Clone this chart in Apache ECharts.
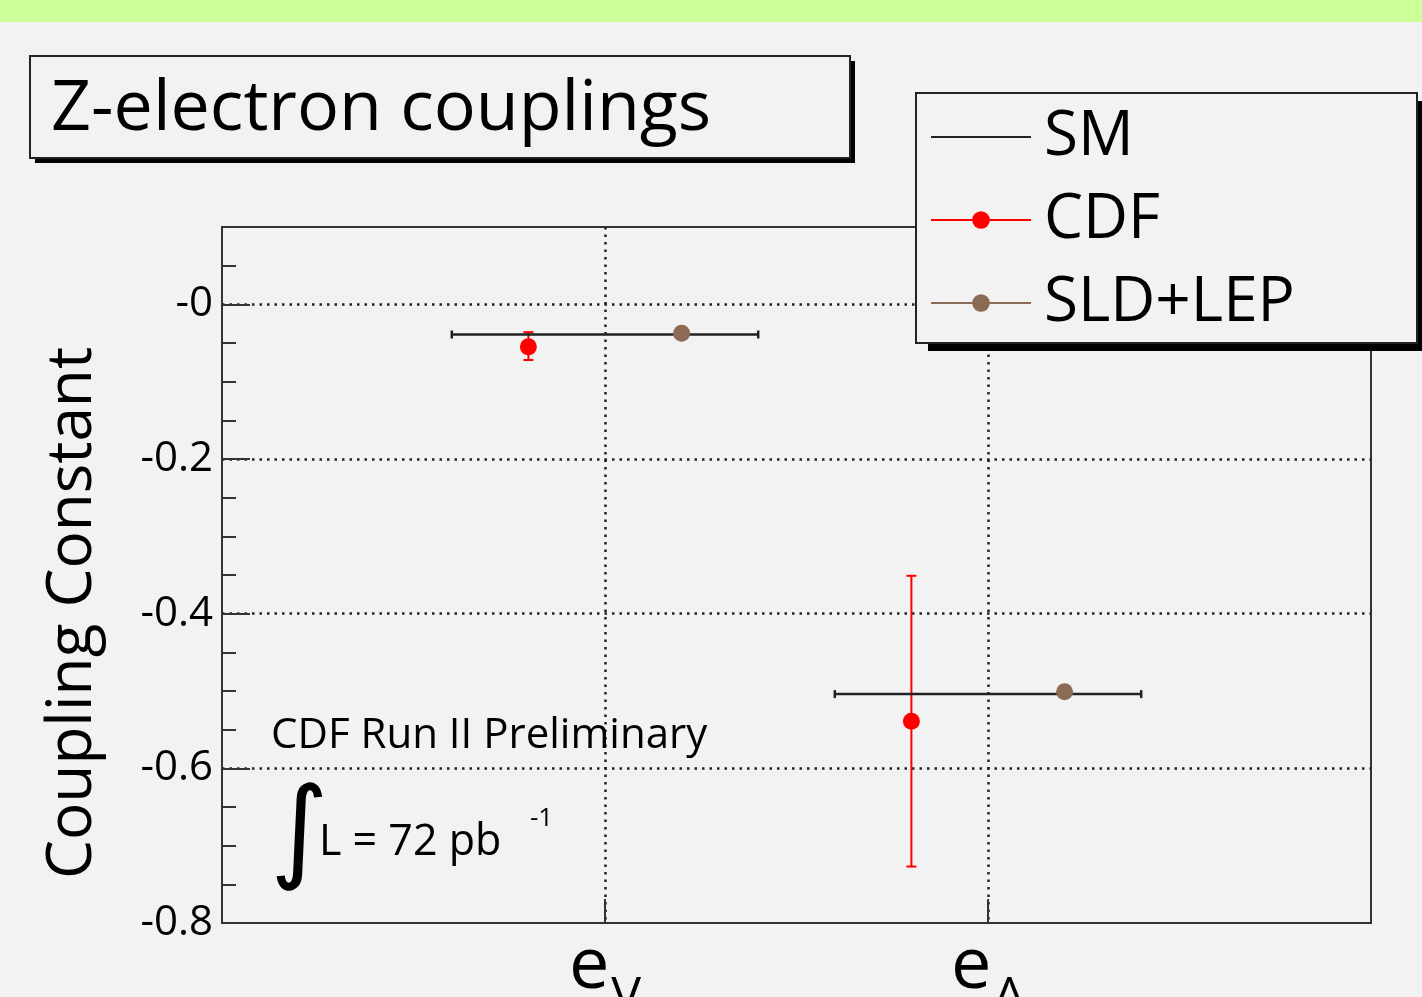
<!DOCTYPE html>
<html>
<head>
<meta charset="utf-8">
<script src="https://cdn.jsdelivr.net/npm/echarts@6/dist/echarts.min.js"></script>
<style>
  html, body { margin: 0; padding: 0; background: #f2f2f2; }
  #chart { width: 1422px; height: 997px; }
</style>
</head>
<body>
<div id="chart"></div>
<script>
// categories on the x axis (placed at x = 1 and x = 2)
const categories = ['V', 'A'];
const categoryX = [1, 2];

// Standard Model lines (horizontal span on x, value on y)
const smFrom = [0.6, 1.6];
const smTo = [1.4, 2.4];
const smValue = [-0.039, -0.504];

// CDF measurement with asymmetric errors
const cdfX = [0.8, 1.8];
const cdfY = [-0.055, -0.539];
const cdfHigh = [-0.036, -0.351];
const cdfLow = [-0.072, -0.727];

// SLD+LEP world average
const lepX = [1.2, 2.2];
const lepY = [-0.0375, -0.501];

// y axis
const yMin = -0.8;
const yMax = 0.1;
const yMajor = 0.2;
const yMinor = 0.05;

const FONT = '"Open Sans", "Noto Sans", sans-serif';

const chart = echarts.init(document.getElementById('chart'));

// SM line data with a break between the two segments
const smLine = [];
smValue.forEach((v, i) => {
    if (i > 0) smLine.push([smFrom[i], '-']);
    smLine.push([smFrom[i], v]);
    smLine.push([smTo[i], v]);
});

chart.setOption({
    backgroundColor: '#f2f2f2',
    animation: false,
    title: {
        text: 'Z-electron couplings',
        left: 46,
        top: 70,
        z: 10,
        textStyle: { fontFamily: FONT, fontSize: 70, fontWeight: 'normal', color: '#000' }
    },
    legend: {
        orient: 'vertical',
        left: 930,
        top: 102,
        padding: 0,
        itemWidth: 100,
        itemHeight: 22,
        itemGap: 13,
        z: 10,
        selectedMode: false,
        textStyle: { fontFamily: FONT, fontSize: 62, lineHeight: 70, color: '#000', padding: [0, 0, 0, 8] },
        data: [
            { name: 'SM', itemStyle: { opacity: 0 } },
            { name: 'CDF', lineStyle: { width: 2 } },
            { name: 'SLD+LEP', lineStyle: { width: 2 } }
        ]
    },
    grid: {
        left: 222, top: 227, right: 51, bottom: 74,
        outerBoundsMode: 'none',
        containLabel: false,
        show: true, borderColor: '#333', borderWidth: 2, backgroundColor: 'transparent'
    },
    xAxis: {
        type: 'value',
        min: 0, max: 3, interval: 1,
        axisLine: { show: true, onZero: false, lineStyle: { color: '#333', width: 2 } },
        axisTick: { show: true, inside: true, length: 24, lineStyle: { color: '#333', width: 2 } },
        splitLine: { show: true, showMinLine: false, showMaxLine: false, lineStyle: { color: '#222', width: 2.5, type: [2.5, 5] } },
        axisLabel: {
            margin: 8,
            formatter: v => {
                const i = categoryX.indexOf(v);
                return i < 0 ? '' : '{e|e}{s|' + categories[i] + '}';
            },
            rich: {
                e: { fontFamily: FONT, fontSize: 72, color: '#000', verticalAlign: 'bottom', padding: [0, 2, 20, 0] },
                s: { fontFamily: FONT, fontSize: 50, color: '#000', verticalAlign: 'bottom' }
            }
        }
    },
    yAxis: [
        {
            type: 'value',
            min: yMin, max: yMax, interval: yMajor,
            name: 'Coupling Constant',
            nameLocation: 'middle',
            nameGap: 118,
            nameTextStyle: { fontFamily: FONT, fontSize: 62, color: '#000', padding: [0, 76, 0, 0] },
            axisLine: { show: true, onZero: false, lineStyle: { color: '#333', width: 2 } },
            axisTick: { show: true, inside: true, length: 28, lineStyle: { color: '#333', width: 2 } },
            splitLine: { show: true, showMinLine: false, showMaxLine: false, lineStyle: { color: '#222', width: 2.5, type: [2.5, 5] } },
            axisLabel: {
                margin: 9,
                fontFamily: FONT, fontSize: 42, color: '#000',
                formatter: v => {
                    if (v > 0.001) return '';
                    if (Math.abs(v) < 1e-9) return '-0';
                    return v.toFixed(1);
                }
            }
        },
        {
            type: 'value',
            min: yMin, max: yMax, interval: yMinor,
            position: 'left',
            axisLine: { show: false },
            axisTick: { show: true, inside: true, length: 14, lineStyle: { color: '#333', width: 2 } },
            splitLine: { show: false },
            axisLabel: { show: false }
        }
    ],
    graphic: [
        { type: 'rect', z: 0, shape: { x: 0, y: 0, width: 1422, height: 22 }, style: { fill: '#ccff99' } },
        // title box
        { type: 'rect', z: 5, shape: { x: 35, y: 61, width: 820, height: 102 }, style: { fill: '#000' } },
        { type: 'rect', z: 5, shape: { x: 30, y: 56, width: 820, height: 102 }, style: { fill: '#f2f2f2', stroke: '#222', lineWidth: 2 } },
        // legend box
        { type: 'rect', z: 5, shape: { x: 928, y: 101, width: 501, height: 250 }, style: { fill: '#000' } },
        { type: 'rect', z: 5, shape: { x: 916, y: 93, width: 501, height: 250 }, style: { fill: '#f2f2f2', stroke: '#222', lineWidth: 2 } },
        // annotations
        { type: 'text', z: 6, x: 271, y: 736, style: { text: 'CDF Run II Preliminary', font: '42px ' + FONT, fill: '#000', verticalAlign: 'middle' } },
        { type: 'text', z: 6, x: 270, y: 838, style: { text: '\u222B', font: '112px "DejaVu Sans"', fill: '#000', verticalAlign: 'middle' } },
        { type: 'text', z: 6, x: 319, y: 843, style: { text: 'L = 72 pb', font: '43px ' + FONT, fill: '#000', verticalAlign: 'middle' } },
        { type: 'text', z: 6, x: 530, y: 819, style: { text: '-1', font: '26px ' + FONT, fill: '#000', verticalAlign: 'middle' } }
    ],
    series: [
        {
            name: 'SM',
            type: 'line',
            data: smLine,
            symbol: 'none',
            connectNulls: false,
            lineStyle: { color: '#222', width: 2.5 },
            itemStyle: { color: '#222' }
        },
        {
            name: 'SM',
            type: 'custom',
            data: smValue.map((v, i) => [smFrom[i], smTo[i], v]),
            renderItem: (params, api) => {
                const a = api.coord([api.value(0), api.value(2)]);
                const b = api.coord([api.value(1), api.value(2)]);
                const style = { stroke: '#222', lineWidth: 2.5 };
                return {
                    type: 'group',
                    children: [
                        { type: 'line', shape: { x1: a[0], y1: a[1] - 4, x2: a[0], y2: a[1] + 4 }, style },
                        { type: 'line', shape: { x1: b[0], y1: b[1] - 4, x2: b[0], y2: b[1] + 4 }, style }
                    ]
                };
            }
        },
        {
            name: 'CDF',
            type: 'line',
            data: cdfX.map((x, i) => [x, cdfY[i]]),
            symbol: 'circle',
            symbolSize: 17,
            lineStyle: { width: 0 },
            itemStyle: { color: '#ff0000' },
            z: 3
        },
        {
            name: 'CDF',
            type: 'custom',
            data: cdfX.map((x, i) => [x, cdfLow[i], cdfHigh[i]]),
            z: 3,
            renderItem: (params, api) => {
                const lo = api.coord([api.value(0), api.value(1)]);
                const hi = api.coord([api.value(0), api.value(2)]);
                const style = { stroke: '#ff0000', lineWidth: 2 };
                return {
                    type: 'group',
                    children: [
                        { type: 'line', shape: { x1: lo[0], y1: lo[1], x2: hi[0], y2: hi[1] }, style },
                        { type: 'line', shape: { x1: lo[0] - 5, y1: lo[1], x2: lo[0] + 5, y2: lo[1] }, style },
                        { type: 'line', shape: { x1: hi[0] - 5, y1: hi[1], x2: hi[0] + 5, y2: hi[1] }, style }
                    ]
                };
            }
        },
        {
            name: 'SLD+LEP',
            type: 'line',
            data: lepX.map((x, i) => [x, lepY[i]]),
            symbol: 'circle',
            symbolSize: 17,
            lineStyle: { width: 0 },
            itemStyle: { color: '#8c6b56' },
            z: 3
        }
    ]
});
</script>
</body>
</html>
